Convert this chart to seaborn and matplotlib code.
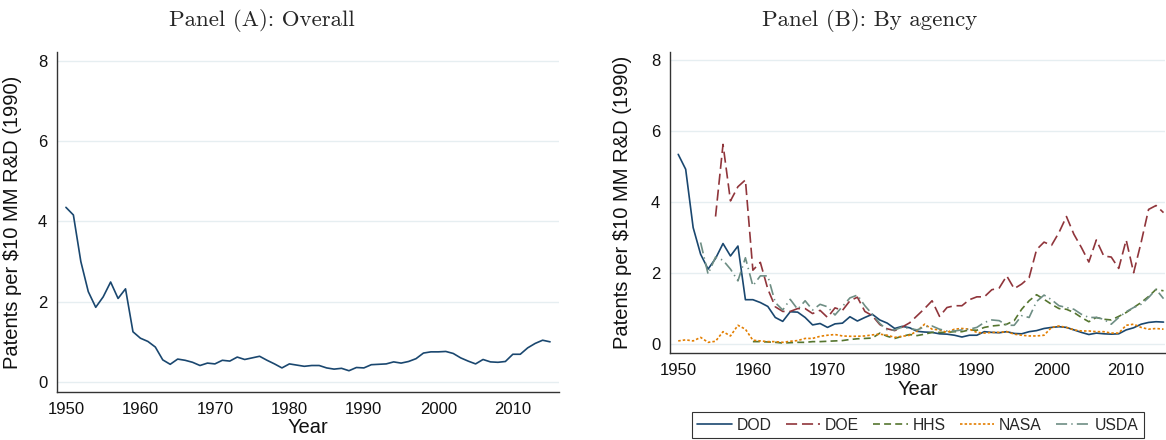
import numpy as np
import pandas as pd
import matplotlib
matplotlib.use("Agg")
import matplotlib.pyplot as plt
import seaborn as sns

nan = np.nan
years = list(range(1950, 2016))

overall = [4.35, 4.16, 3.00, 2.25, 1.86, 2.12, 2.49, 2.08, 2.32, 1.25,
           1.09, 1.01, 0.87, 0.55, 0.44, 0.57, 0.54, 0.49, 0.41, 0.47,
           0.45, 0.54, 0.52, 0.62, 0.56, 0.60, 0.64, 0.54, 0.45, 0.35,
           0.45, 0.42, 0.39, 0.41, 0.41, 0.35, 0.32, 0.34, 0.28, 0.36,
           0.35, 0.43, 0.44, 0.45, 0.50, 0.47, 0.51, 0.58, 0.72, 0.75,
           0.75, 0.76, 0.71, 0.60, 0.52, 0.45, 0.56, 0.50, 0.49, 0.51,
           0.69, 0.69, 0.85, 0.96, 1.04, 1.00]

dod = [5.34, 4.92, 3.28, 2.53, 2.11, 2.41, 2.83, 2.48, 2.76, 1.25,
       1.25, 1.17, 1.06, 0.75, 0.64, 0.91, 0.90, 0.75, 0.54, 0.58,
       0.47, 0.57, 0.59, 0.77, 0.65, 0.75, 0.84, 0.68, 0.59, 0.44,
       0.50, 0.46, 0.36, 0.34, 0.33, 0.29, 0.28, 0.25, 0.20, 0.25,
       0.25, 0.35, 0.33, 0.32, 0.35, 0.30, 0.29, 0.35, 0.38, 0.44,
       0.47, 0.49, 0.47, 0.40, 0.33, 0.27, 0.31, 0.29, 0.28, 0.29,
       0.40, 0.46, 0.56, 0.61, 0.63, 0.62]

doe = [nan, nan, nan, nan, nan, 3.59, 5.62, 4.03, 4.43, 4.62,
       2.08, 2.30, 1.55, 1.05, 0.92, 0.92, 1.00, 1.00, 0.86, 0.95,
       0.75, 1.02, 0.95, 1.22, 1.32, 0.92, 0.80, 0.55, 0.43, 0.38,
       0.48, 0.60, 0.80, 1.00, 1.22, 0.78, 1.03, 1.08, 1.08, 1.25,
       1.33, 1.33, 1.53, 1.58, 1.92, 1.56, 1.69, 1.87, 2.66, 2.87,
       2.78, 3.14, 3.59, 3.09, 2.72, 2.31, 2.93, 2.48, 2.45, 2.13,
       2.93, 2.01, 2.86, 3.79, 3.90, 3.70]

hhs = [nan, nan, nan, nan, nan, nan, nan, nan, nan, nan,
       0.07, 0.07, 0.06, 0.05, 0.03, 0.04, 0.05, 0.05, 0.07, 0.07,
       0.08, 0.09, 0.10, 0.13, 0.15, 0.16, 0.17, 0.31, 0.22, 0.16,
       0.22, 0.27, 0.24, 0.28, 0.33, 0.33, 0.33, 0.35, 0.35, 0.40,
       0.39, 0.47, 0.51, 0.53, 0.56, 0.66, 0.98, 1.22, 1.39, 1.26,
       1.12, 1.00, 0.98, 0.89, 0.75, 0.63, 0.75, 0.70, 0.68, 0.78,
       0.89, 1.03, 1.17, 1.34, 1.54, 1.50]

nasa = [0.09, 0.12, 0.09, 0.19, 0.05, 0.08, 0.35, 0.23, 0.53, 0.42,
        0.11, 0.09, 0.07, 0.07, 0.05, 0.08, 0.10, 0.16, 0.16, 0.22,
        0.25, 0.27, 0.23, 0.22, 0.22, 0.23, 0.26, 0.28, 0.25, 0.19,
        0.22, 0.25, 0.37, 0.56, 0.42, 0.40, 0.33, 0.42, 0.44, 0.42,
        0.33, 0.31, 0.33, 0.33, 0.35, 0.28, 0.25, 0.23, 0.23, 0.25,
        0.47, 0.51, 0.47, 0.40, 0.37, 0.37, 0.35, 0.35, 0.31, 0.31,
        0.53, 0.56, 0.47, 0.42, 0.44, 0.42]

usda = [nan, nan, nan, 2.86, 1.97, 2.45, 2.36, 2.11, 1.78, 2.43,
        1.64, 1.92, 1.92, 1.17, 0.96, 1.26, 0.98, 1.22, 0.96, 1.12,
        1.05, 0.82, 1.06, 1.30, 1.38, 1.08, 0.84, 0.58, 0.40, 0.40,
        0.48, 0.44, 0.40, 0.49, 0.51, 0.42, 0.37, 0.37, 0.40, 0.42,
        0.47, 0.61, 0.68, 0.66, 0.53, 0.53, 0.80, 0.75, 1.20, 1.38,
        1.25, 1.08, 1.03, 0.98, 0.84, 0.75, 0.75, 0.70, 0.56, 0.75,
        0.91, 1.03, 1.12, 1.31, 1.54, 1.28]

agencies = ["DOD", "DOE", "HHS", "NASA", "USDA"]
agency_vals = [dod, doe, hhs, nasa, usda]
x_ticks = [1950, 1960, 1970, 1980, 1990, 2000, 2010]
y_ticks = [0, 2, 4, 6, 8]

colors = ["#1a476f", "#90353b", "#55752f", "#e37e00", "#6e8e84"]
styles = ["-", (0, (8, 3.5)), (0, (5, 3)), (0, (1.8, 1.5)), (0, (8, 3, 1, 3))]

sns.set_style("white")
plt.rcParams["font.family"] = ["Liberation Sans", "DejaVu Sans"]
plt.rcParams["lines.scale_dashes"] = False

fig = plt.figure(figsize=(11.66, 4.4), dpi=100)
W, H = 1166, 440
axA = fig.add_axes([57 / W, 1 - 392 / H, (559 - 57) / W, (392 - 52) / H])
axB = fig.add_axes([670 / W, 1 - 353 / H, (1165 - 670) / W, (353 - 52) / H])

dfA = pd.DataFrame({"Year": years, "val": overall})
sns.lineplot(data=dfA, x="Year", y="val", ax=axA, color=colors[0], lw=1.2,
             errorbar=None)

for name, vals, c, ls in zip(agencies, agency_vals, colors, styles):
    d = pd.DataFrame({"Year": years, "val": vals}).dropna()
    sns.lineplot(data=d, x="Year", y="val", ax=axB, color=c, lw=1.2,
                 linestyle=ls, label=name, errorbar=None)

for ax, xl in ((axA, (1948.8, 2016.2)), (axB, (1948.9, 2015.2))):
    ax.set_xlim(*xl)
    ax.set_ylim(-0.25, 8.22)
    ax.set_xticks(x_ticks)
    ax.set_yticks(y_ticks)
    ax.grid(axis="y", color="#e6eef1", lw=1.0)
    ax.grid(axis="x", visible=False)
    ax.set_axisbelow(True)
    for s in ("top", "right"):
        ax.spines[s].set_visible(False)
    for s in ("left", "bottom"):
        ax.spines[s].set_color("#333333")
        ax.spines[s].set_linewidth(1.0)
    ax.tick_params(axis="both", direction="out", length=4, width=0.9,
                   color="#333333", labelsize=12, pad=3, labelcolor="#111111")
    ax.set_ylabel("Patents per $10 MM R&D (1990)", fontsize=14.5, color="#111111")
    ax.set_xlabel("Year", fontsize=14.5, color="#111111")
    if ax.get_legend():
        ax.get_legend().remove()

axA.yaxis.set_label_coords((22 - 57) / 502, 0.5)
axA.xaxis.set_label_coords(0.5, (392 - 418) / 340)
axB.yaxis.set_label_coords((632 - 670) / 495, 0.5)
axB.xaxis.set_label_coords(0.5, (353 - 380) / 301)

serif = ["cmr10", "DejaVu Serif"]
fig.text(262 / W, 1 - 20 / H, "Panel (A): Overall", ha="center", va="center",
         fontsize=16.5, family=serif)
fig.text(870 / W, 1 - 20 / H, "Panel (B): By agency", ha="center", va="center",
         fontsize=16.5, family=serif)

handles, labels = axB.get_legend_handles_labels()
leg = fig.legend(handles, labels, loc="lower center", ncol=5,
                 bbox_to_anchor=(918 / W, 2 / H), fontsize=11.3,
                 frameon=True, fancybox=False, edgecolor="black",
                 handlelength=2.2, handletextpad=0.3, columnspacing=0.9,
                 borderpad=0.35, borderaxespad=0)
leg.get_frame().set_linewidth(0.8)

fig.savefig("out.png", dpi=100)
